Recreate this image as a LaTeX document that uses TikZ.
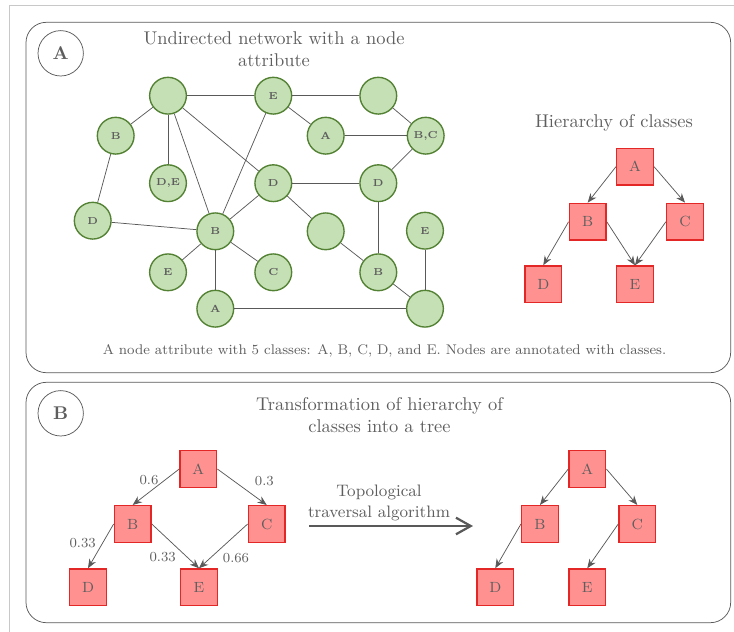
\documentclass[tikz,border=0pt]{standalone}
\usetikzlibrary{arrows.meta}
\definecolor{nodegreen}{HTML}{C5E0B4}
\definecolor{bordergreen}{HTML}{548235}
\definecolor{classred}{HTML}{FF9191}
\definecolor{borderred}{HTML}{E32626}
\definecolor{linegray}{HTML}{595959}
\definecolor{textgray}{HTML}{5E5E5E}
\definecolor{framegray}{HTML}{C8C8C8}
\def\mysize{0.7cm}
\tikzset{
semithick, % all lines semithick
>={Stealth[length=5pt,width=4pt]},
my node/.style={circle,draw=bordergreen,line width=0.75pt,fill=nodegreen,minimum size=\mysize,inner sep=0pt,font=\fontsize{5.5}{6}\selectfont\bfseries,text=textgray},
my class/.style={rectangle,draw=borderred,line width=0.75pt,fill=classred,minimum size=\mysize,inner sep=0pt,font=\footnotesize,text=textgray},
my panel/.style={draw=linegray,rounded corners=11pt},
my tag/.style={circle,draw=linegray,thin,minimum size=24.6pt,inner sep=0pt,font=\bfseries,text=textgray},
my title/.style={align=center,text=textgray,font=\normalsize},
my weight/.style={font=\fontsize{7.5}{9}\selectfont,text=textgray,inner sep=1pt},
link/.style={draw=linegray},
}
\begin{document}
\begin{tikzpicture}[x=0.542pt,y=-0.542pt]
\useasboundingbox (0,0) rectangle (734,632);
% page frame
\draw[framegray,thin] (9.7,632) -- (9.7,5) -- (734,5);
% panels
\draw[my panel] (26,22.3) rectangle (730.7,372.7);
\draw[my panel] (26,382.3) rectangle (730.7,622.7);
\node[my tag] (tagA) at (60.7,53.3) {A};
\node[my tag] (tagB) at (60.7,413.3) {B};

%% panel A: network
\node[my title] (titleA) at (274,49.5) {Undirected network with a node\\attribute};
\node[my node] (n1)  at (168,95.7)   {};
\node[my node] (n2)  at (273.3,95.7) {E};
\node[my node] (n3)  at (378.3,95.7) {};
\node[my node] (n4)  at (115.7,135.7) {B};
\node[my node] (n5)  at (325.7,135.7) {A};
\node[my node] (n6)  at (425.7,135.7) {B,C};
\node[my node] (n7)  at (168,183.2)   {D,E};
\node[my node] (n8)  at (273.3,183.2) {D};
\node[my node] (n9)  at (378.3,183.2) {D};
\node[my node] (n10) at (92.7,220.7)  {D};
\node[my node] (n11) at (215.3,231.3) {B};
\node[my node] (n12) at (325.7,231.3) {};
\node[my node] (n13) at (425,230.7)   {E};
\node[my node] (n14) at (168,272.3)   {E};
\node[my node] (n15) at (273.3,272.3) {C};
\node[my node] (n16) at (378.3,272.3) {B};
\node[my node] (n17) at (215.3,308.7) {A};
\node[my node] (n18) at (425,308.7)   {};
\path[link]
  (n1) edge (n2) edge (n4) edge (n7) edge (n11) edge (n8)
  (n2) edge (n3) edge (n5) edge (n11)
  (n3) edge (n6)
  (n5) edge (n6)
  (n6) edge (n9)
  (n4) edge (n10)
  (n8) edge (n9) edge (n11) edge (n12)
  (n10) edge (n11)
  (n9) edge (n16)
  (n11) edge (n14) edge (n15) edge (n17)
  (n12) edge (n16)
  (n16) edge (n18)
  (n13) edge (n18)
  (n17) edge (n18);
\node[text=textgray,font=\fontsize{7.6}{9}\selectfont] (capA) at (384.5,351) {A node attribute with 5 classes: A, B, C, D, and E. Nodes are annotated with classes.};

%% panel A: hierarchy
\node[my title] (titleH) at (614,122.7) {Hierarchy of classes};
\node[my class] (hA) at (635,166.7)   {A};
\node[my class] (hB) at (587.7,221.7) {B};
\node[my class] (hC) at (685,221.7)   {C};
\node[my class] (hD) at (543.3,284.3) {D};
\node[my class] (hE) at (635,284.3)   {E};
\draw[->,link] (hA.west) -- (hB.north);
\draw[->,link] (hA.east) -- (hC.north);
\draw[->,link] (hB.west) -- (hD.north);
\draw[->,link] (hB.east) -- (hE.north);
\draw[->,link] (hC.west) -- (hE.north);

%% panel B: weighted hierarchy
\node[my title] (titleB) at (379.5,415) {Transformation of hierarchy of\\classes into a tree};
\node[my class] (wA) at (198.3,469)   {A};
\node[my class] (wB) at (132.7,524)   {B};
\node[my class] (wC) at (266.7,524)   {C};
\node[my class] (wD) at (88,587.3)    {D};
\node[my class] (wE) at (199,587.3)   {E};
\draw[->,link] (wA.west) -- (wB.north);
\draw[->,link] (wA.east) -- (wC.north);
\draw[->,link] (wB.west) -- (wD.north);
\draw[->,link] (wB.east) -- (wE.north);
\draw[->,link] (wC.west) -- (wE.north);
\node[my weight] (lAB) at (149,480)    {0.6};
\node[my weight] (lAC) at (264.3,481)  {0.3};
\node[my weight] (lBD) at (82.7,543.3) {0.33};
\node[my weight] (lBE) at (162.7,556.7) {0.33};
\node[my weight] (lCE) at (236,558.3)  {0.66};

%% panel B: traversal arrow
\coordinate (tstart) at (309,526);
\coordinate (tend) at (473,526);
\draw[linegray,line width=1.2pt,-{Straight Barb[length=8pt,width=9pt]}] (tstart) -- (tend);
\node[align=center,text=textgray,font=\small] (tlabel) at (379,503) {Topological\\traversal algorithm};

%% panel B: tree
\node[my class] (tA) at (587.3,469)   {A};
\node[my class] (tB) at (540,524)     {B};
\node[my class] (tC) at (637.3,524)   {C};
\node[my class] (tD) at (495.3,587.3) {D};
\node[my class] (tE) at (587.3,587.3) {E};
\draw[->,link] (tA.west) -- (tB.north);
\draw[->,link] (tA.east) -- (tC.north);
\draw[->,link] (tB.west) -- (tD.north);
\draw[->,link] (tC.west) -- (tE.north);
\end{tikzpicture}
\end{document}
